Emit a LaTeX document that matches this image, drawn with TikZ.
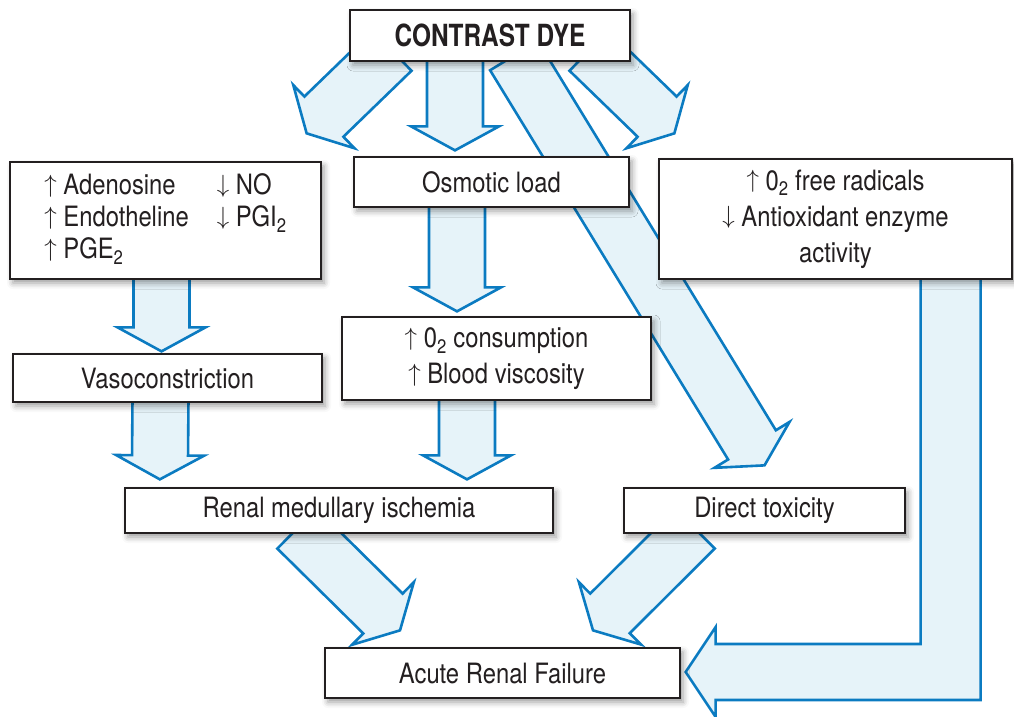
\documentclass[tikz,border=0pt]{standalone}
\usepackage{fontspec}
\setmainfont{TeX Gyre Heros}[FakeStretch=0.85]
\newfontfamily\headfont{TeX Gyre Heros}[FakeStretch=0.8]
\usepackage{tikz}
\usetikzlibrary{calc,backgrounds,shadows.blur}

\definecolor{ink}{HTML}{231F20}
\definecolor{flowline}{HTML}{0B7BC1}
\definecolor{flowfill}{HTML}{E6F3F9}

\newcommand{\incr}{\raisebox{0.08em}{$\uparrow$}}
\newcommand{\decr}{\raisebox{0.08em}{$\downarrow$}}
\newcommand{\shaftw}{28pt}
\newcommand{\headw}{44pt}
\newcommand{\headlen}{24pt}
\newcommand{\fatarrow}[2]{%
  \coordinate (fa) at ($(#2)!\headlen!(#1)$);
  \draw[flow] ($(#1)!\shaftw!90:(#2)$) -- ($(fa)!\shaftw!-90:(#1)$)
    -- ($(fa)!\headw!-90:(#1)$) -- (#2) -- ($(fa)!\headw!90:(#1)$)
    -- ($(fa)!\shaftw!90:(#1)$) -- ($(#1)!\shaftw!-90:(#2)$) -- cycle;}

\begin{document}
\begin{tikzpicture}[x=1pt,y=-1pt,
    box/.style={draw=ink,line width=1.3pt,fill=white,text=ink,inner sep=0pt,
      font=\fontsize{28}{36}\selectfont,align=center,
      blur shadow={shadow xshift=3pt,shadow yshift=-4pt,shadow blur radius=6pt,shadow opacity=40}},
    flow/.style={draw=flowline,fill=flowfill,line width=2.6pt,line join=miter}]
  \clip (0,0) rectangle (1014,716);
  \node[box,minimum width=280pt,minimum height=51pt,font=\headfont\bfseries\fontsize{30.5}{36}\selectfont] (dye) at (490,35.5) {CONTRAST DYE};
  \node[box,minimum width=311pt,minimum height=117pt,font=\fontsize{28}{32}\selectfont] (chem) at (165.5,220.5)
    {\raisebox{-4pt}{\begin{tabular}{@{}l@{\hspace{28pt}}l@{}}
      \incr{} Adenosine & \decr{} NO\\
      \incr{} Endotheline & \decr{} PGI\textsubscript{2}\\
      \incr{} PGE\textsubscript{2} &
    \end{tabular}}};
  \node[box,minimum width=275pt,minimum height=50pt] (osm) at (491.5,182) {Osmotic load};
  \node[box,minimum width=353pt,minimum height=120pt] (rad) at (835.5,219)
    {\incr{} 0\textsubscript{2} free radicals\\ \decr{} Antioxidant enzyme\\ activity};
  \node[box,minimum width=309pt,minimum height=48pt] (vaso) at (167.5,378) {Vasoconstriction};
  \node[box,minimum width=309pt,minimum height=83pt] (visc) at (496.5,358.5)
    {\raisebox{-3pt}{\begin{tabular}{@{}c@{}}\incr{} 0\textsubscript{2} consumption\\ \incr{} Blood viscosity\end{tabular}}};
  \node[box,minimum width=428pt,minimum height=45pt] (isch) at (339,510.5) {Renal medullary ischemia};
  \node[box,minimum width=281pt,minimum height=45pt] (tox) at (764.5,510.5) {Direct toxicity};
  \node[box,minimum width=355pt,minimum height=50pt] (arf) at (502.5,673) {Acute Renal Failure};

  \begin{scope}[on background layer]
    \coordinate (a1) at ($(dye.south)+(-98,-11)$);
    \coordinate (b1) at ($(chem.north east)+(-15,-28)$);
    \coordinate (a2) at ($(dye.south)+(-35,-6)$);
    \coordinate (b2) at ($(osm.north)+(-36.5,-6)$);
    \coordinate (a3) at ($(dye.south)+(99,-11)$);
    \coordinate (b3) at ($(rad.north west)+(16,-25)$);
    \coordinate (a4) at ($(dye.south)+(24,-6)$);
    \coordinate (b4) at ($(tox.north)+(0,-22)$);
    \coordinate (a6) at ($(chem.south)+(-4,-4)$);
    \coordinate (b6) at ($(vaso.north)+(-6,-2)$);
    \coordinate (a7) at ($(vaso.south)+(-7,-4)$);
    \coordinate (b7) at ($(isch.north west)+(35.5,-8)$);
    \coordinate (a8) at ($(osm.south)+(-34.5,-4)$);
    \coordinate (b8) at ($(visc.north)+(-39.5,-5)$);
    \coordinate (a9) at ($(visc.south)+(-29.5,-4)$);
    \coordinate (b9) at ($(isch.north)+(128,-8)$);
    \coordinate (a10) at ($(isch.south)+(-42,-5)$);
    \coordinate (b10) at ($(arf.north)+(-102.5,-17)$);
    \coordinate (a11) at ($(tox.south)+(-69.5,-5)$);
    \coordinate (b11) at ($(arf.north)+(90.5,-17)$);
    \fatarrow{a1}{b1}
    \fatarrow{a2}{b2}
    \fatarrow{a3}{b3}
    \fatarrow{a4}{b4}
    \fatarrow{a6}{b6}
    \fatarrow{a7}{b7}
    \fatarrow{a8}{b8}
    \fatarrow{a9}{b9}
    \fatarrow{a10}{b10}
    \fatarrow{a11}{b11}
    \coordinate (turn) at ($(arf.east)+(270,-1)$);
    \coordinate (tip) at ($(arf.east)+(5,-1)$);
    \draw[flow] ($(turn |- rad.south)+(-30,-4)$) -- ($(turn)+(-30,-28)$) -- ($(tip)+(30,-28)$)
      -- ($(tip)+(30,-45)$) -- (tip) -- ($(tip)+(30,45)$) -- ($(tip)+(30,28)$)
      -- ($(turn)+(30,28)$) -- ($(turn |- rad.south)+(30,-4)$) -- cycle;
  \end{scope}
\end{tikzpicture}
\end{document}
